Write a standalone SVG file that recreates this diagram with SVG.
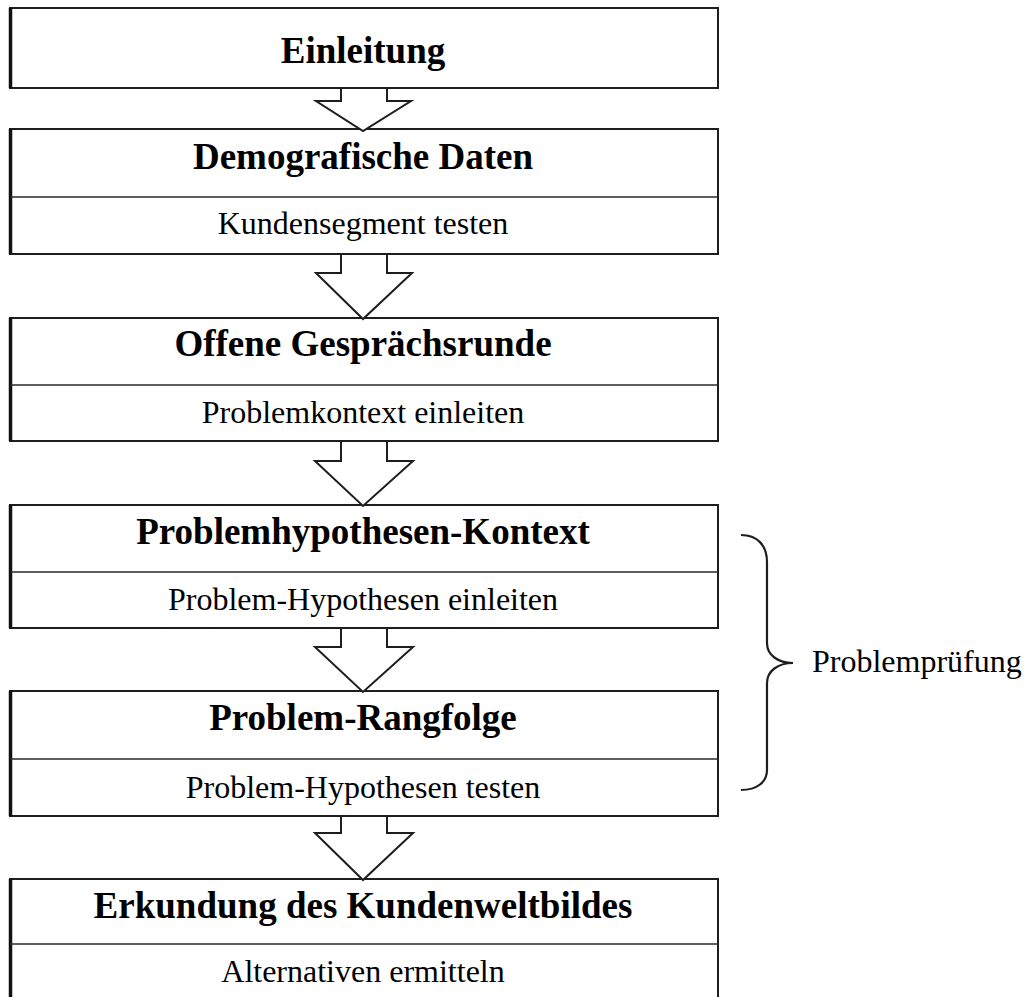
<svg xmlns="http://www.w3.org/2000/svg" width="1027" height="997" viewBox="0 0 1027 997">
  <style>
    .box { fill: #ffffff; stroke: #1e1e1e; stroke-width: 2; }
    .edge { stroke: #111111; stroke-width: 3.5; }
    .div { stroke: #2a2a2a; stroke-width: 1.6; }
    .title { font-family: "Liberation Serif", "Times New Roman", serif; font-weight: bold; font-size: 37px; fill: #000; text-anchor: middle; }
    .sub { font-family: "Liberation Serif", "Times New Roman", serif; font-size: 32px; fill: #000; text-anchor: middle; }
    .label { font-family: "Liberation Serif", "Times New Roman", serif; font-size: 32px; fill: #000; }
    .arrow { fill: #ffffff; stroke: #1e1e1e; stroke-width: 2; stroke-linejoin: miter; }
    .brace { fill: none; stroke: #1e1e1e; stroke-width: 2.2; }
  </style>

  <rect width="1027" height="997" fill="#ffffff"/>

  <g id="einleitung">
    <rect class="box" x="10" y="8" width="708" height="80"/>
    <line class="edge" x1="10.5" y1="8" x2="10.5" y2="88"/>
    <text class="title" x="363" y="63">Einleitung</text>
  </g>

  <g id="demografische-daten">
    <rect class="box" x="10" y="129" width="708" height="125"/>
    <line class="edge" x1="10.5" y1="129" x2="10.5" y2="254"/>
    <line class="div" x1="10" y1="197" x2="718" y2="197"/>
    <text class="title" x="363" y="169">Demografische  Daten</text>
    <text class="sub" x="363" y="234">Kundensegment testen</text>
  </g>

  <g id="offene-gespraechsrunde">
    <rect class="box" x="10" y="318" width="708" height="123"/>
    <line class="edge" x1="10.5" y1="318" x2="10.5" y2="441"/>
    <line class="div" x1="10" y1="385" x2="718" y2="385"/>
    <text class="title" x="363" y="356">Offene Gesprächsrunde</text>
    <text class="sub" x="363" y="423">Problemkontext einleiten</text>
  </g>

  <g id="problemhypothesen-kontext">
    <rect class="box" x="10" y="505" width="708" height="123"/>
    <line class="edge" x1="10.5" y1="505" x2="10.5" y2="628"/>
    <line class="div" x1="10" y1="572" x2="718" y2="572"/>
    <text class="title" x="363" y="544">Problemhypothesen-Kontext</text>
    <text class="sub" x="363" y="610">Problem-Hypothesen einleiten</text>
  </g>

  <g id="problem-rangfolge">
    <rect class="box" x="10" y="691" width="708" height="125"/>
    <line class="edge" x1="10.5" y1="691" x2="10.5" y2="816"/>
    <line class="div" x1="10" y1="759" x2="718" y2="759"/>
    <text class="title" x="363" y="730">Problem-Rangfolge</text>
    <text class="sub" x="363" y="798">Problem-Hypothesen testen</text>
  </g>

  <g id="erkundung-kundenweltbild">
    <rect class="box" x="10" y="879" width="708" height="130"/>
    <line class="edge" x1="10.5" y1="879" x2="10.5" y2="1000"/>
    <line class="div" x1="10" y1="944" x2="718" y2="944"/>
    <text class="title" x="363" y="918">Erkundung des Kundenweltbildes</text>
    <text class="sub" x="363" y="982">Alternativen  ermitteln</text>
  </g>

  <g id="connectors">
    <path class="arrow" d="M341,89 L341,101 L316,101 L363,131 L411,101 L387,101 L387,89"/>
    <path class="arrow" d="M341,255 L341,273 L316,273 L363,319 L412,273 L387,273 L387,255"/>
    <path class="arrow" d="M341,442 L341,461 L315,461 L363,506 L413,461 L387,461 L387,442"/>
    <path class="arrow" d="M341,629 L341,647 L315,647 L363,692 L413,647 L387,647 L387,629"/>
    <path class="arrow" d="M341,817 L341,833 L315,833 L363,880 L413,833 L387,833 L387,817"/>
  </g>

  <g id="problempruefung">
    <path class="brace" d="M741,535 C757,535 767,545 767,562 L767,643 C767,655 778,663 793,663 C778,663 767,671 767,683 L767,770 C767,782 757,790 741,790"/>
    <text class="label" x="812" y="672">Problemprüfung</text>
  </g>
</svg>
